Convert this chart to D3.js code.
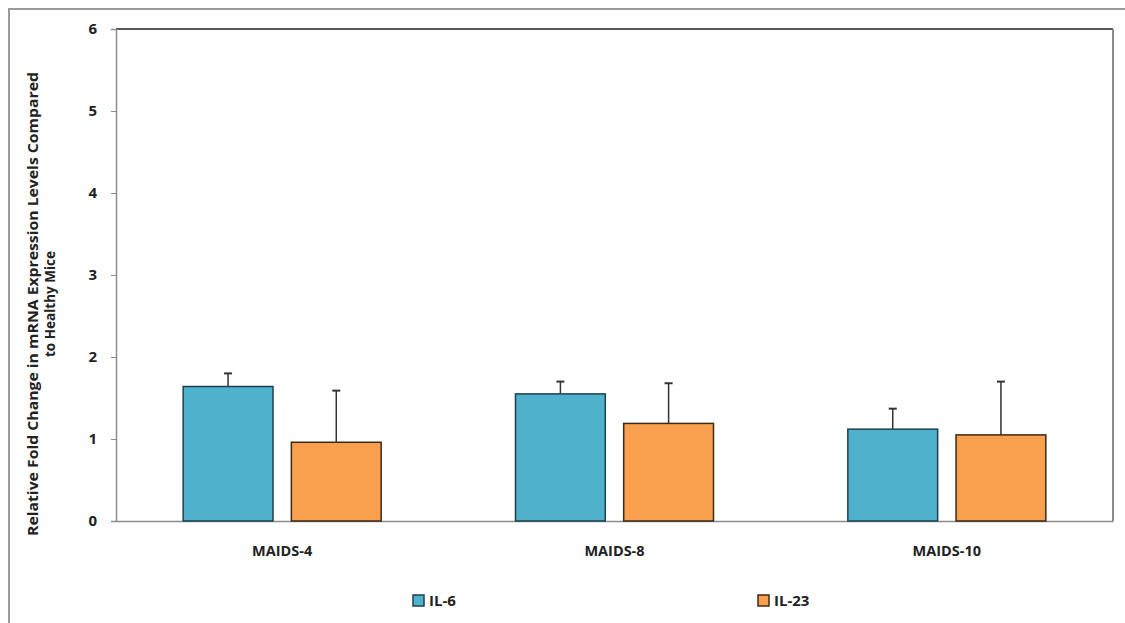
<!DOCTYPE html>
<html>
<head>
<meta charset="utf-8">
<script src="https://cdn.jsdelivr.net/npm/d3@7"></script>
<style>
  html, body { margin: 0; padding: 0; background: #fff; }
  svg { display: block; }
  text { font-family: "Open Sans", "Noto Sans", sans-serif; font-weight: bold; fill: #222; }
</style>
</head>
<body>
<svg id="chart" width="1125" height="623"></svg>
<script>
// Fold change of cytokine mRNA relative to healthy mice
const categories = ["MAIDS-4", "MAIDS-8", "MAIDS-10"];
const seriesNames = ["IL-6", "IL-23"];
const il6Values = [1.64, 1.55, 1.12];
const il6Errors = [0.16, 0.15, 0.25];
const il23Values = [0.96, 1.19, 1.05];
const il23Errors = [0.63, 0.49, 0.65];
const yTicks = [0, 1, 2, 3, 4, 5, 6];

const seriesColors = ["#4fb1cb", "#f9a04f"];
const seriesStroke = ["#1f3f4c", "#3a2a1a"];

const svg = d3.select("#chart");
const W = 1125, H = 623;
const plot = { left: 116, top: 29, right: 1113, bottom: 521 };

// outer frame
svg.append("path")
  .attr("d", `M9,${H} L9,9 L${W},9`)
  .attr("fill", "none").attr("stroke", "#9a9a9a").attr("stroke-width", 2);

const x0 = d3.scaleBand().domain(categories).range([plot.left, plot.right]).paddingInner(0).paddingOuter(0);
const x1 = d3.scaleBand().domain(seriesNames).range([-99, 99]).paddingInner(0.17).paddingOuter(0);
const y = d3.scaleLinear().domain([0, 6]).range([plot.bottom, plot.top]);

// plot area border
svg.append("line").attr("x1", plot.left).attr("x2", plot.right).attr("y1", plot.top).attr("y2", plot.top)
  .attr("stroke", "#222").attr("stroke-width", 1.5);
svg.append("line").attr("x1", plot.right).attr("x2", plot.right).attr("y1", plot.top).attr("y2", plot.bottom)
  .attr("stroke", "#8c8c8c").attr("stroke-width", 2);

// y axis
const yAxis = svg.append("g").attr("transform", `translate(${plot.left},0)`)
  .call(d3.axisLeft(y).tickValues(yTicks).tickFormat(d3.format("d")).tickSize(5).tickPadding(14));
yAxis.select(".domain").attr("stroke", "#8c8c8c").attr("stroke-width", 1.5);
yAxis.selectAll(".tick line").attr("stroke", "#8c8c8c");
yAxis.selectAll("text").attr("font-size", 15).attr("font-weight", "bold").attr("fill", "#222")
  .attr("font-family", "'Open Sans', sans-serif");

// x axis
const xAxis = svg.append("g").attr("transform", `translate(0,${plot.bottom})`)
  .call(d3.axisBottom(x0).tickSize(0).tickPadding(25));
xAxis.select(".domain").attr("stroke", "#8c8c8c").attr("stroke-width", 1.5);
xAxis.selectAll("text").attr("font-size", 14.5).attr("font-weight", "bold").attr("fill", "#222")
  .attr("font-family", "'Open Sans', sans-serif");

const rows = [];
categories.forEach((c, i) => {
  rows.push({ cat: c, s: 0, v: il6Values[i], e: il6Errors[i] });
  rows.push({ cat: c, s: 1, v: il23Values[i], e: il23Errors[i] });
});

const cx = d => x0(d.cat) + x0.bandwidth() / 2 + x1(seriesNames[d.s]);

// error bars (upper only)
const err = svg.append("g");
err.selectAll("line.stem").data(rows).join("line")
  .attr("x1", d => cx(d) + x1.bandwidth() / 2).attr("x2", d => cx(d) + x1.bandwidth() / 2)
  .attr("y1", d => y(d.v)).attr("y2", d => y(d.v + d.e))
  .attr("stroke", "#333").attr("stroke-width", 1.5);
err.selectAll("line.cap").data(rows).join("line")
  .attr("x1", d => cx(d) + x1.bandwidth() / 2 - 4).attr("x2", d => cx(d) + x1.bandwidth() / 2 + 4)
  .attr("y1", d => y(d.v + d.e)).attr("y2", d => y(d.v + d.e))
  .attr("stroke", "#333").attr("stroke-width", 2);

// bars
svg.append("g").selectAll("rect").data(rows).join("rect")
  .attr("x", d => cx(d)).attr("width", x1.bandwidth())
  .attr("y", d => y(d.v)).attr("height", d => y(0) - y(d.v))
  .attr("fill", d => seriesColors[d.s])
  .attr("stroke", d => seriesStroke[d.s]).attr("stroke-width", 1.5);

// y axis title
const yTitle = svg.append("text")
  .attr("transform", "translate(33,304) rotate(-90)")
  .attr("text-anchor", "middle").attr("font-size", 14);
yTitle.append("tspan").attr("x", 0).attr("dy", "0.35em")
  .attr("textLength", 464).attr("lengthAdjust", "spacingAndGlyphs")
  .text("Relative Fold Change in mRNA Expression Levels Compared");
yTitle.append("tspan").attr("x", 0).attr("dy", "1.2em")
  .attr("textLength", 106).attr("lengthAdjust", "spacingAndGlyphs")
  .text("to Healthy Mice");

// legend
const legendX = [413, 758];
const legend = svg.append("g");
seriesNames.forEach((name, i) => {
  legend.append("rect").attr("x", legendX[i]).attr("y", 595).attr("width", 11).attr("height", 11)
    .attr("fill", seriesColors[i]).attr("stroke", seriesStroke[i]).attr("stroke-width", 1.5);
  legend.append("text").attr("x", legendX[i] + 16).attr("y", 601).attr("dy", "0.35em")
    .attr("font-size", 15).text(name);
});
</script>
</body>
</html>
